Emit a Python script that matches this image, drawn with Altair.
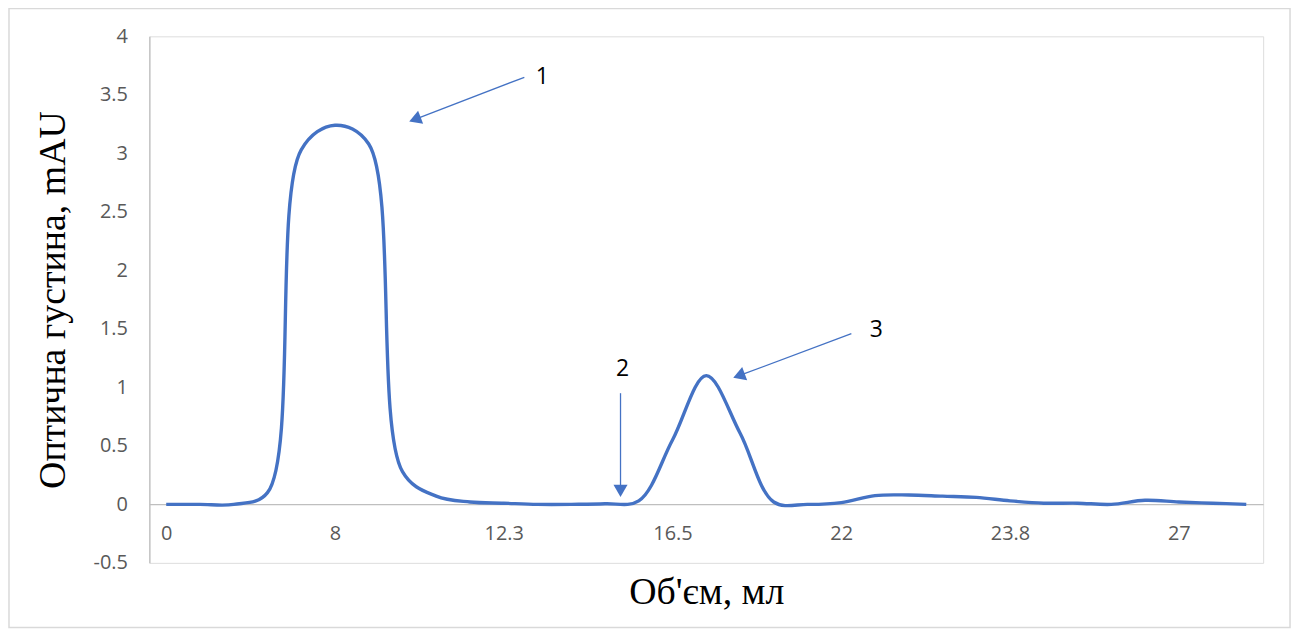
import math
import altair as alt
import pandas as pd

# ---- data ----
point_index = list(range(33))
optical_density = [0.00, 0.00, 0.00, 0.10, 3.03, 3.24, 3.08, 0.28, 0.07, 0.02,
                   0.01, 0.00, 0.00, 0.005, 0.03, 0.55, 1.10, 0.61, 0.02, 0.00,
                   0.015, 0.075, 0.08, 0.07, 0.06, 0.03, 0.01, 0.01, 0.00, 0.035,
                   0.02, 0.01, 0.00]
tick_positions = [0, 5, 10, 15, 20, 25, 30]
tick_labels = ["0", "8", "12.3", "16.5", "22", "23.8", "27"]
y_ticks = [-0.5, 0, 0.5, 1, 1.5, 2, 2.5, 3, 3.5, 4]

# annotations: label, label pos, arrow start, arrow tip (index / value units)
ann_labels = ["1", "2", "3"]
ann_label_x = [11.14, 13.52, 21.04]
ann_label_y = [3.65, 1.16, 1.49]
arrow_x0 = [10.61, 13.46, 20.30]
arrow_y0 = [3.65, 0.95, 1.46]
arrow_x1 = [7.19, 13.46, 16.79]
arrow_y1 = [3.27, 0.06, 1.08]

W, H = 1119, 529
XDOM = [-0.5, 32.5]
YDOM = [-0.5, 4]
BLUE = "#4472c4"

sx = W / (XDOM[1] - XDOM[0])
sy = H / (YDOM[1] - YDOM[0])
head = 13.0
heads = []
shafts = []
for i in range(3):
    dx = (arrow_x1[i] - arrow_x0[i]) * sx
    dy = -(arrow_y1[i] - arrow_y0[i]) * sy
    L = math.hypot(dx, dy)
    ux, uy = dx / L, dy / L
    hx = arrow_x1[i] - ux * head / 2 / sx
    hy = arrow_y1[i] + uy * head / 2 / sy
    ang = math.degrees(math.atan2(ux, -uy)) % 360
    heads.append({"x": hx, "y": hy, "angle": ang})
    shafts.append({"x": arrow_x0[i], "y": arrow_y0[i], "x2": hx, "y2": hy})

df = pd.DataFrame({"i": point_index, "v": optical_density})
lab_map = "{" + ",".join(f"'{p}':'{t}'" for p, t in zip(tick_positions, tick_labels)) + "}"

xscale = alt.Scale(domain=XDOM, nice=False, zero=False)
yscale = alt.Scale(domain=YDOM, nice=False, zero=False)

line = alt.Chart(df).mark_line(
    color=BLUE, strokeWidth=3.4, interpolate="catmull-rom"
).encode(
    x=alt.X("i:Q", scale=xscale,
            axis=alt.Axis(title="Об'єм, мл", values=tick_positions,
                          labelExpr=f"{lab_map}[''+datum.value]",
                          orient="bottom", offset=-59, grid=False, ticks=False,
                          domain=True, domainColor="#bfbfbf", domainWidth=1.3,
                          labelColor="#595959", labelFontSize=20, labelFont="Open Sans",
                          labelPadding=20, labelFlush=False,
                          titleFont="Liberation Serif", titleFontSize=38,
                          titleFontWeight="normal", titleColor="#000000",
                          titlePadding=30)),
    y=alt.Y("v:Q", scale=yscale,
            axis=alt.Axis(title="Оптична густина, mAU", values=y_ticks,
                          labelExpr="''+datum.value", grid=False, ticks=False,
                          domain=True, domainColor="#bfbfbf", domainWidth=1.3,
                          labelColor="#595959", labelFontSize=20, labelFont="Open Sans",
                          labelPadding=22, labelFlush=False,
                          titleFont="Liberation Serif", titleFontSize=38,
                          titleFontWeight="normal", titleColor="#000000",
                          titlePadding=21)),
)

shaft_layer = alt.Chart(pd.DataFrame(shafts)).mark_rule(
    color=BLUE, strokeWidth=1.3
).encode(x=alt.X("x:Q", scale=xscale), y=alt.Y("y:Q", scale=yscale),
         x2="x2:Q", y2="y2:Q")

head_layer = alt.Chart(pd.DataFrame(heads)).mark_point(
    shape="triangle-up", filled=True, color=BLUE, size=200, opacity=1
).encode(x=alt.X("x:Q", scale=xscale), y=alt.Y("y:Q", scale=yscale),
         angle=alt.Angle("angle:Q", scale=None))

text_layer = alt.Chart(pd.DataFrame({"t": ann_labels, "x": ann_label_x, "y": ann_label_y})).mark_text(
    font="Open Sans", fontSize=23, color="#000000", align="center", baseline="middle"
).encode(x=alt.X("x:Q", scale=xscale), y=alt.Y("y:Q", scale=yscale), text="t:N")

frame = alt.Chart(pd.DataFrame({"a": [0]})).mark_rect(
    fill=None, stroke="#d9d9d9", strokeWidth=1.5
).encode(x=alt.value(-141), x2=alt.value(1146), y=alt.value(-28), y2=alt.value(594))

chart = alt.layer(frame, line, shaft_layer, head_layer, text_layer).properties(
    width=W, height=H,
    autosize=alt.AutoSizeParams(type="none"),
    padding={"left": 142, "top": 27, "right": 32, "bottom": 66},
).configure_view(stroke=None).configure(background="white")

chart.save("out.html", embed_options={"renderer": "svg", "actions": False})
